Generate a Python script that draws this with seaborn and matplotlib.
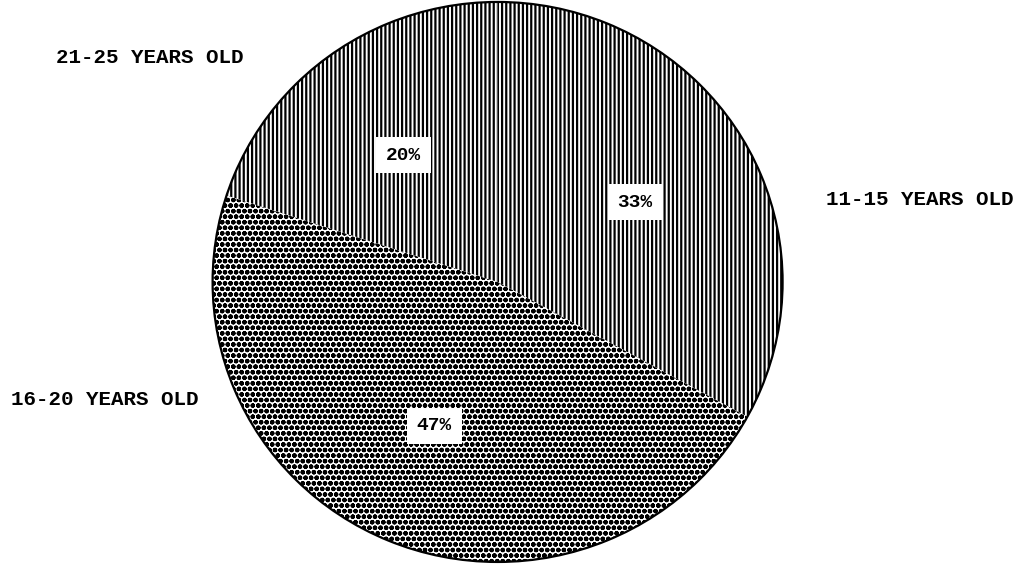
import seaborn as sns
import numpy as np
import matplotlib
matplotlib.use("Agg")
import matplotlib.pyplot as plt

# age groups and their share of the total
groups = ['11-15 YEARS OLD', '16-20 YEARS OLD', '21-25 YEARS OLD']
shares = [33, 47, 20]
hatches = ['||||', '...ooo', '||||']

sns.set_theme(style='white')
plt.rcParams['font.family'] = ['Liberation Mono', 'DejaVu Sans Mono']
plt.rcParams['hatch.linewidth'] = 1.6
plt.rcParams['hatch.color'] = 'black'

fig = plt.figure(figsize=(10.18, 5.67), dpi=100)
ax = fig.add_axes([0, 0, 1, 1])

wedges, texts, pcts = ax.pie(
    shares, startangle=90, counterclock=False,
    colors=['white'] * 3, autopct='%d%%', pctdistance=0.56,
    wedgeprops=dict(edgecolor='black', linewidth=0),
    textprops=dict(fontsize=14, fontweight='bold', color='black'))

for w, h in zip(wedges, hatches):
    w.set_hatch(h)

for t in pcts:
    t.set_bbox(dict(facecolor='white', edgecolor='none', pad=7))

# outline of the whole pie, no radial edges between slices
ax.pie([sum(shares)], colors=['none'],
       wedgeprops=dict(edgecolor='black', linewidth=1.6, fill=False))

# outer labels sit beside the pie, not on the slice midlines
label_pos = {'11-15 YEARS OLD': (1.482, 0.293),
             '16-20 YEARS OLD': (-1.377, -0.421),
             '21-25 YEARS OLD': (-1.219, 0.80)}
for g in groups:
    x, y = label_pos[g]
    ax.text(x, y, g, ha='center', va='center', fontsize=15,
            fontweight='bold', color='black')

ax.set_aspect('auto')
ax.set_xlim(-1.746, 1.826)
ax.set_ylim(-1.018, 1.007)
ax.axis('off')

fig.savefig('out.png', dpi=100, facecolor='white')
